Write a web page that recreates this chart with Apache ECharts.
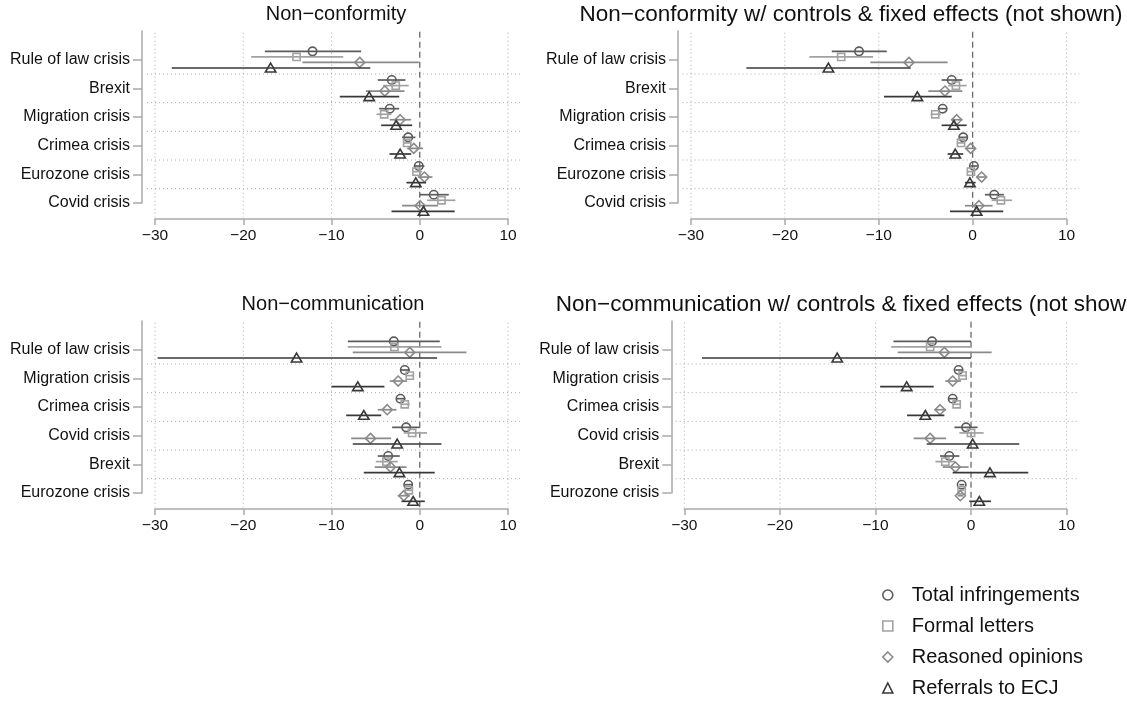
<!DOCTYPE html>
<html>
<head>
<meta charset="utf-8">
<script src="https://cdn.jsdelivr.net/npm/echarts@6/dist/echarts.min.js"></script>
<style>
html,body{margin:0;padding:0;background:#fff;}
#chart{width:1127px;height:703px;}
</style>
</head>
<body>
<div id="chart"></div>
<script>
// ---------------- data ----------------
const categoriesTop = ['Rule of law crisis', 'Brexit', 'Migration crisis', 'Crimea crisis', 'Eurozone crisis', 'Covid crisis'];
const categoriesBottom = ['Rule of law crisis', 'Migration crisis', 'Crimea crisis', 'Covid crisis', 'Brexit', 'Eurozone crisis'];
const seriesNames = ['Total infringements', 'Formal letters', 'Reasoned opinions', 'Referrals to ECJ'];
const panelTitles = ['Non\u2212conformity', 'Non\u2212conformity w/ controls & fixed effects (not shown)',
                     'Non\u2212communication', 'Non\u2212communication w/ controls & fixed effects (not shown)'];
const xTicks = [-30, -20, -10, 0, 10];

// each row: [estimate, lower CI, upper CI], in category order of the panel
// Panel 1: Non-conformity
const p1Total    = [[-12.15, -17.55, -6.64], [-3.17, -4.76, -1.62], [-3.40, -4.60, -2.33], [-1.31, -2.00, -0.49], [-0.11, -0.68, 0.53], [1.59, 0.00, 3.29]];
const p1Formal   = [[-13.96, -19.10, -8.67], [-2.72, -4.15, -1.25], [-4.03, -4.90, -3.20], [-1.43, -1.88, -0.97], [-0.37, -0.86, 0.27], [2.46, 0.83, 4.04]];
const p1Reasoned = [[-6.80, -13.30, -0.10], [-3.96, -6.10, -1.73], [-2.22, -3.40, -0.97], [-0.68, -1.43, 0.38], [0.53, -0.23, 1.44], [0.04, -2.00, 2.08]];
const p1Referral = [[-16.90, -28.10, -5.60], [-5.73, -9.06, -2.33], [-2.68, -4.37, -0.86], [-2.22, -3.43, -0.97], [-0.45, -1.50, 0.72], [0.42, -3.20, 3.96]];
// Panel 2: Non-conformity w/ controls & FE
const p2Total    = [[-12.10, -15.00, -9.15], [-2.23, -3.30, -1.10], [-3.19, -3.66, -2.77], [-1.00, -1.43, -0.57], [0.14, -0.21, 0.49], [2.30, 1.31, 3.33]];
const p2Formal   = [[-14.00, -17.40, -10.60], [-1.78, -2.60, -0.64], [-3.98, -4.47, -3.40], [-1.24, -1.64, -0.82], [-0.18, -0.57, 0.25], [3.01, 2.02, 4.21]];
const p2Reasoned = [[-6.78, -10.90, -2.66], [-2.95, -4.72, -1.10], [-1.70, -2.23, -1.10], [-0.21, -0.71, 0.25], [0.96, 0.49, 1.49], [0.67, -0.82, 2.13]];
const p2Referral = [[-15.36, -24.10, -6.60], [-5.89, -9.44, -2.23], [-1.99, -3.30, -0.64], [-1.85, -2.66, -1.00], [-0.29, -0.82, 0.32], [0.43, -2.41, 3.26]];
// Panel 3: Non-communication
const p3Total    = [[-2.94, -8.15, 2.27], [-1.70, -2.19, -1.13], [-2.19, -2.64, -1.62], [-1.54, -3.13, 0.00], [-3.58, -4.76, -2.26], [-1.31, -1.70, -0.86]];
const p3Formal   = [[-2.87, -8.15, 2.46], [-1.13, -1.62, -0.68], [-1.70, -2.10, -1.13], [-0.86, -1.81, 0.83], [-3.77, -4.98, -2.49], [-1.24, -1.62, -0.86]];
const p3Reasoned = [[-1.13, -7.59, 5.29], [-2.45, -3.40, -1.43], [-3.69, -4.76, -2.64], [-5.58, -7.77, -3.24], [-3.32, -5.10, -1.50], [-1.81, -2.49, -1.13]];
const p3Referral = [[-13.96, -29.70, 1.97], [-7.02, -10.00, -4.00], [-6.34, -8.34, -4.37], [-2.56, -7.59, 2.46], [-2.30, -6.34, 1.70], [-0.75, -2.07, 0.57]];
// Panel 4: Non-communication w/ controls & FE
const p4Total    = [[-4.08, -8.12, 0.00], [-1.30, -1.64, -0.88], [-1.92, -2.34, -1.50], [-0.52, -1.74, 0.69], [-2.27, -3.24, -1.22], [-0.98, -1.22, -0.70]];
const p4Formal   = [[-4.28, -8.36, 0.00], [-0.88, -1.30, -0.42], [-1.50, -1.92, -1.05], [0.00, -1.22, 1.32], [-2.69, -3.73, -1.64], [-0.98, -1.22, -0.70]];
const p4Reasoned = [[-2.79, -7.67, 2.16], [-1.92, -2.69, -1.05], [-3.24, -3.83, -2.61], [-4.28, -6.00, -2.61], [-1.64, -2.97, -0.25], [-1.12, -1.40, -0.80]];
const p4Referral = [[-14.00, -28.15, 0.00], [-6.73, -9.51, -3.90], [-4.78, -6.69, -2.79], [0.17, -4.64, 5.05], [1.98, -1.92, 5.99], [0.87, -0.18, 2.09]];

// ---------------- styling ----------------
const FONT = '"Liberation Sans", Arial, Helvetica, sans-serif';
const seriesColors = ['#5c5c5c', '#a2a2a2', '#8a8a8a', '#383838'];
const seriesOffsets = [-0.29, -0.095, 0.095, 0.29];
const axisGray = '#a9a9a9';
const gridDot = '#a8a8a8';

const panels = [
  { cats: categoriesTop,    data: [p1Total, p1Formal, p1Reasoned, p1Referral], grid: { left: 155,   top: 31,  width: 353,   height: 172 }, title: { left: 336, textAlign: 'center', top: 4 },   titleSize: 20 },
  { cats: categoriesTop,    data: [p2Total, p2Formal, p2Reasoned, p2Referral], grid: { left: 691,   top: 31,  width: 375.5, height: 172 }, title: { left: 851, textAlign: 'center', top: 3 },   titleSize: 22.5 },
  { cats: categoriesBottom, data: [p3Total, p3Formal, p3Reasoned, p3Referral], grid: { left: 155,   top: 321, width: 353,   height: 172 }, title: { left: 333, textAlign: 'center', top: 294 }, titleSize: 20 },
  { cats: categoriesBottom, data: [p4Total, p4Formal, p4Reasoned, p4Referral], grid: { left: 684.3, top: 321, width: 382.3, height: 172 }, title: { left: 851, textAlign: 'center', top: 293 }, titleSize: 22.5 }
];

function markerShape(sIdx, x, y, color) {
  const style = { fill: 'none', stroke: color, lineWidth: 1.6 };
  if (sIdx === 0) return { type: 'circle', shape: { cx: x, cy: y, r: 4.2 }, style };
  if (sIdx === 1) return { type: 'rect', shape: { x: x - 3.6, y: y - 3.6, width: 7.2, height: 7.2 }, style };
  if (sIdx === 2) return { type: 'polygon', shape: { points: [[x, y - 5], [x + 5, y], [x, y + 5], [x - 5, y]] }, style };
  return { type: 'polygon', shape: { points: [[x, y - 4.8], [x + 5.2, y + 4], [x - 5.2, y + 4]] }, style };
}

const grids = [], xAxes = [], yAxes = [], series = [], titles = [];
const catIdx = [1, 2, 3, 4, 5, 6];

panels.forEach((p, pi) => {
  grids.push(Object.assign({ containLabel: false }, p.grid));
  titles.push(Object.assign({
    text: panelTitles[pi],
    textStyle: { fontFamily: FONT, fontSize: p.titleSize, fontWeight: 'normal', color: '#111' },
    padding: 0
  }, p.title));
  xAxes.push({
    gridIndex: pi, type: 'value', min: xTicks[0], max: xTicks[xTicks.length - 1], interval: 10, offset: 16,
    axisLine: { show: true, onZero: false, lineStyle: { color: axisGray, width: 1.5 } },
    axisTick: { show: true, length: 6, lineStyle: { color: axisGray, width: 1.5 } },
    axisLabel: { fontFamily: FONT, fontSize: 15.5, color: '#111', margin: 9,
                 formatter: v => String(v).replace('-', '\u2212') },
    splitLine: { show: false }
  });
  yAxes.push({
    gridIndex: pi, type: 'value', inverse: true, min: 0, max: p.cats.length, interval: 1, offset: 13,
    axisLine: { show: true, onZero: false, lineStyle: { color: axisGray, width: 1.5 } },
    axisTick: { show: true, length: 9, customValues: catIdx, lineStyle: { color: axisGray, width: 1.5 } },
    axisLabel: { fontFamily: FONT, fontSize: 16, color: '#111', margin: 12, customValues: catIdx,
                 formatter: v => p.cats[v - 1] || '' },
    splitLine: { show: false }
  });

  // background: dotted grid lines and dashed zero line
  series.push({
    type: 'custom', name: 'frame' + pi, xAxisIndex: pi, yAxisIndex: pi, silent: true, clip: false, z: 1,
    data: [[0]],
    renderItem: (params, api) => {
      const children = [];
      const n = p.cats.length;
      const xL = xTicks[0] - 0.9, xR = xTicks[xTicks.length - 1] + 1.35;
      for (let k = 1; k < n; k++) {
        const a = api.coord([xL, k + 0.5]), b = api.coord([xR, k + 0.5]);
        children.push({ type: 'line', shape: { x1: a[0], y1: a[1], x2: b[0], y2: b[1] },
          style: { stroke: gridDot, lineWidth: 1, lineDash: [1, 3] } });
      }
      xTicks.forEach(t => {
        const a = api.coord([t, 0.06]), b = api.coord([t, n + 0.5]);
        if (t === 0) {
          children.push({ type: 'line', shape: { x1: a[0], y1: a[1] - 1, x2: b[0], y2: b[1] },
            style: { stroke: '#6a6a6a', lineWidth: 1.3, lineDash: [6, 4] } });
        } else {
          children.push({ type: 'line', shape: { x1: a[0], y1: a[1], x2: b[0], y2: b[1] },
            style: { stroke: gridDot, lineWidth: 1, lineDash: [1, 3] } });
        }
      });
      return { type: 'group', children };
    }
  });

  p.data.forEach((arr, si) => {
    series.push({
      type: 'custom', name: seriesNames[si], xAxisIndex: pi, yAxisIndex: pi, clip: false, z: 5 + si,
      itemStyle: { color: seriesColors[si] },
      data: arr.map((d, i) => [i + 1, d[0], d[1], d[2]]),
      encode: { x: [1, 2, 3], y: 0 },
      renderItem: (params, api) => {
        const yv = api.value(0) + seriesOffsets[si];
        const c = api.coord([api.value(1), yv]);
        const a = api.coord([api.value(2), yv]);
        const b = api.coord([api.value(3), yv]);
        return { type: 'group', children: [
          { type: 'line', shape: { x1: a[0], y1: a[1], x2: b[0], y2: b[1] },
            style: { stroke: seriesColors[si], lineWidth: 1.7 } },
          markerShape(si, c[0], c[1], seriesColors[si])
        ] };
      }
    });
  });
});

const legendIcons = ['circle', 'rect', 'diamond', 'triangle'];
const chart = echarts.init(document.getElementById('chart'), null, { renderer: 'canvas' });
chart.setOption({
  animation: false,
  backgroundColor: '#ffffff',
  title: titles,
  grid: grids,
  xAxis: xAxes,
  yAxis: yAxes,
  legend: {
    orient: 'vertical', left: 882, top: 585, padding: 0, height: 118,
    itemWidth: 10, itemHeight: 10, itemGap: 11,
    selectedMode: false,
    textStyle: { fontFamily: FONT, fontSize: 20, color: '#111', lineHeight: 20, padding: [0, 0, 0, 14] },
    data: seriesNames.map((n, i) => ({
      name: n, icon: legendIcons[i],
      itemStyle: { color: 'rgba(0,0,0,0)', borderColor: seriesColors[i], borderWidth: 1.6 }
    }))
  },
  series
});
</script>
</body>
</html>
